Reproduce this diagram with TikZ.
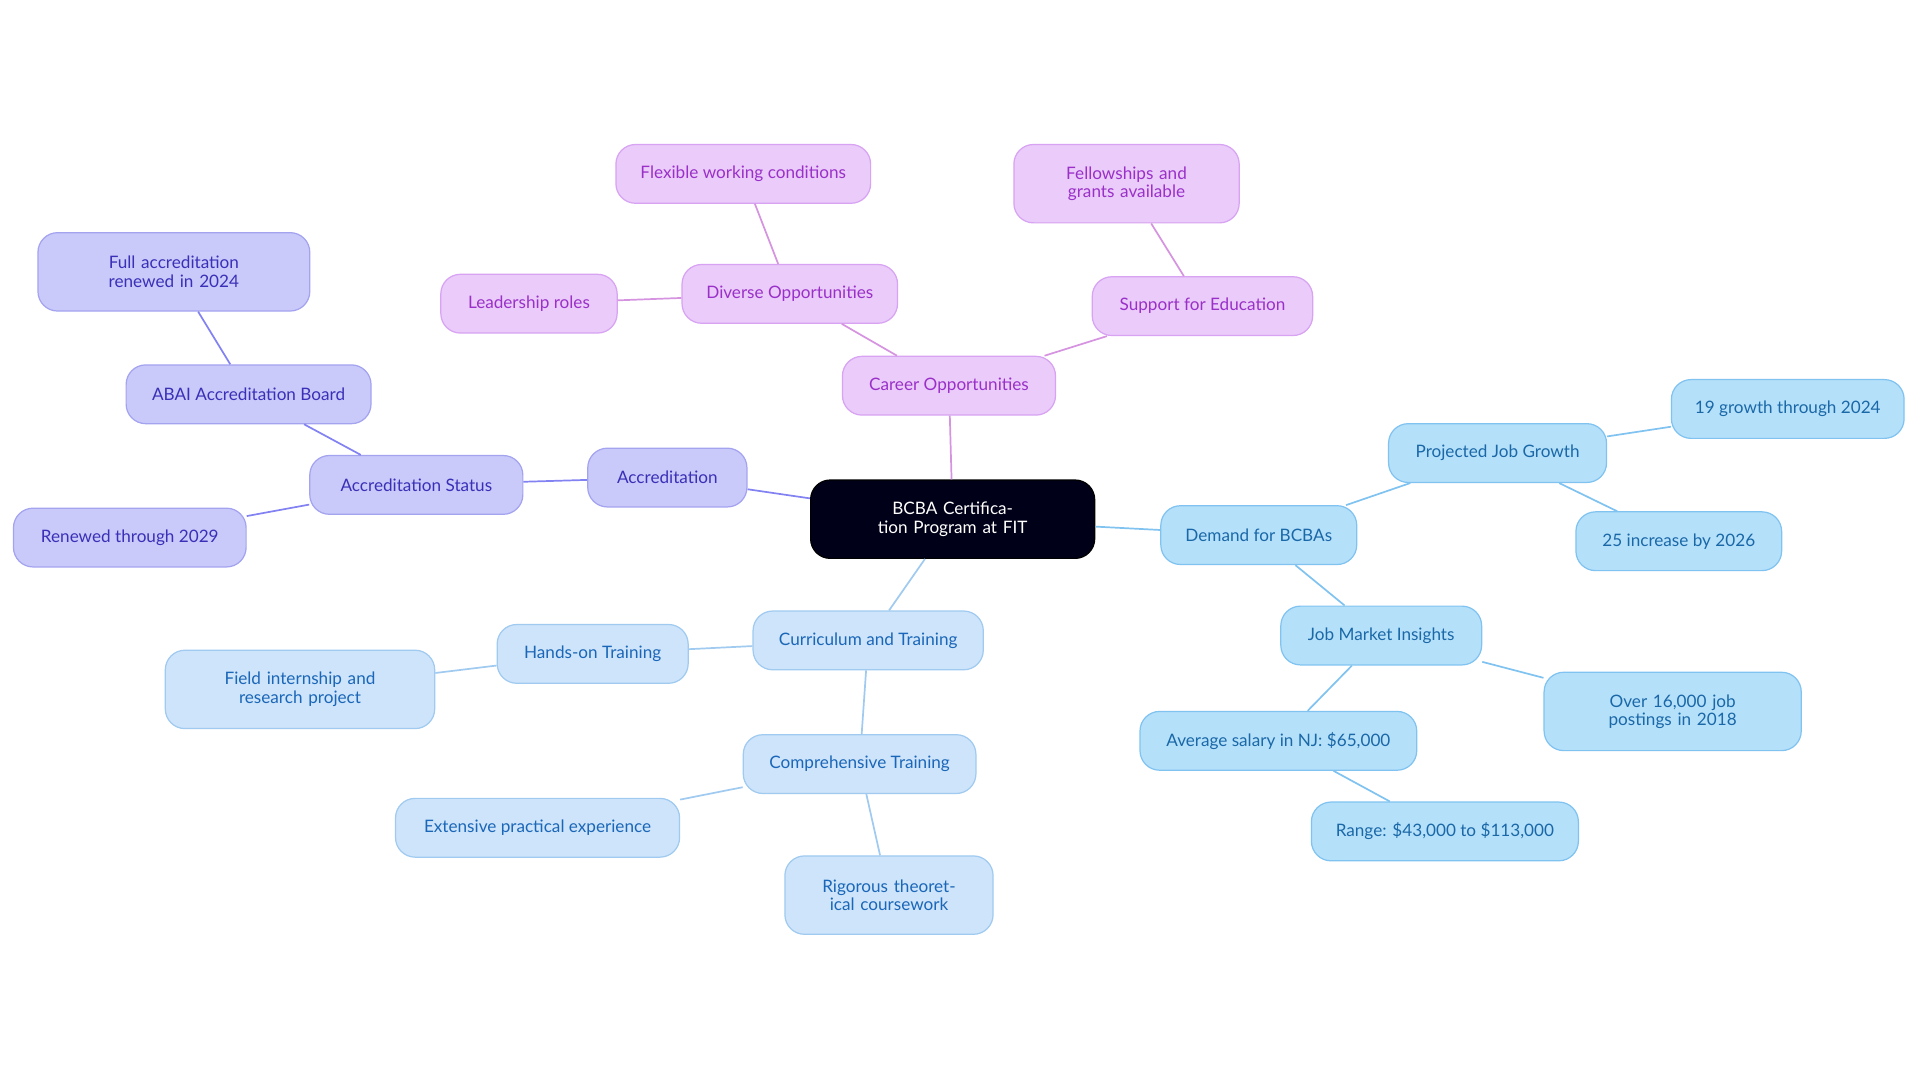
\documentclass[tikz,border=0pt]{standalone}
\usepackage{fontspec}
\setmainfont{Lato}
\definecolor{aF}{HTML}{C9C9FA}\definecolor{aD}{HTML}{A3A3F0}\definecolor{aT}{HTML}{3A30B8}
\definecolor{cF}{HTML}{EACBFA}\definecolor{cD}{HTML}{D7A3F2}\definecolor{cT}{HTML}{9A30C8}
\definecolor{dF}{HTML}{B5E0FA}\definecolor{dD}{HTML}{80C3F0}\definecolor{dT}{HTML}{1A68A8}
\definecolor{tF}{HTML}{CDE4FA}\definecolor{tD}{HTML}{A0CAF0}\definecolor{tT}{HTML}{1A66B8}
\begin{document}
\begin{tikzpicture}[x=0.5pt,y=-0.5pt,
 box/.style={rounded corners=8pt,font=\fontsize{7}{7.5}\selectfont,align=center,minimum height=24pt,inner sep=2pt,line width=0.5pt},
 ac/.style={box,fill=aF,draw=aD,text=aT},
 ca/.style={box,fill=cF,draw=cD,text=cT},
 de/.style={box,fill=dF,draw=dD,text=dT},
 cu/.style={box,fill=tF,draw=tD,text=tT},
 two/.style={minimum height=32pt},
 la/.style={draw=aD!80!blue,line width=0.7pt},
 lc/.style={draw=cD!90!purple,line width=0.7pt},
 ld/.style={draw=dD,line width=0.7pt},
 lt/.style={draw=tD,line width=0.7pt}]
\useasboundingbox (0,0) rectangle (1568,884);
\node[box,fill=black!90!blue,draw=black,text=white,minimum width=116pt,minimum height=32pt,text width=100pt] (c) at (778,424) {BCBA Certification Program at FIT};
\node[ac,minimum width=65pt] (a) at (545,390) {Accreditation};
\node[ac,minimum width=87pt] (as) at (340,396) {Accreditation Status};
\node[ac,minimum width=100pt] (ab) at (203,322) {ABAI Accreditation Board};
\node[ac,two,minimum width=111pt,text width=95pt] (fa) at (142,222) {Full accreditation renewed in 2024};
\node[ac,minimum width=95pt] (rt) at (106,439) {Renewed through 2029};
\node[ca,minimum width=87pt] (co) at (775,315) {Career Opportunities};
\node[ca,minimum width=88pt] (do) at (645,240) {Diverse Opportunities};
\node[ca,minimum width=104pt] (fw) at (607,142) {Flexible working conditions};
\node[ca,minimum width=72pt] (lr) at (432,248) {Leadership roles};
\node[ca,minimum width=90pt] (se) at (982,250) {Support for Education};
\node[ca,two,minimum width=92pt,text width=80pt] (fg) at (920,150) {Fellowships and grants available};
\node[de,minimum width=80pt] (db) at (1028,437) {Demand for BCBAs};
\node[de,minimum width=89pt] (pj) at (1223,370) {Projected Job Growth};
\node[de,minimum width=95pt] (g19) at (1460,334) {19 growth through 2024};
\node[de,minimum width=84pt] (i25) at (1371,442) {25 increase by 2026};
\node[de,minimum width=82pt] (jm) at (1128,519) {Job Market Insights};
\node[de,two,minimum width=105pt,text width=90pt] (op) at (1366,581) {Over 16,000 job postings in 2018};
\node[de,minimum width=113pt] (av) at (1044,605) {Average salary in NJ: \$65,000};
\node[de,minimum width=109pt] (rg) at (1180,679) {Range: \$43,000 to \$113,000};
\node[cu,minimum width=94pt] (ct) at (709,523) {Curriculum and Training};
\node[cu,minimum width=78pt] (ht) at (484,534) {Hands-on Training};
\node[cu,two,minimum width=110pt,text width=96pt] (fi) at (245,563) {Field internship and research project};
\node[cu,minimum width=95pt] (cm) at (702,624) {Comprehensive Training};
\node[cu,minimum width=116pt] (ep) at (439,676) {Extensive practical experience};
\node[cu,two,minimum width=85pt,text width=72pt] (rc) at (726,731) {Rigorous theoretical coursework};
\begin{scope}[on background layer/.style={}]
\end{scope}
\path[la] (c)--(a) (a)--(as) (as)--(ab) (ab)--(fa) (as)--(rt);
\path[lc] (c)--(co) (co)--(do) (do)--(fw) (do)--(lr) (co)--(se) (se)--(fg);
\path[ld] (c)--(db) (db)--(pj) (pj)--(g19) (pj)--(i25) (db)--(jm) (jm)--(op) (jm)--(av) (av)--(rg);
\path[lt] (c)--(ct) (ct)--(ht) (ht)--(fi) (ct)--(cm) (cm)--(ep) (cm)--(rc);
\end{tikzpicture}
\end{document}
